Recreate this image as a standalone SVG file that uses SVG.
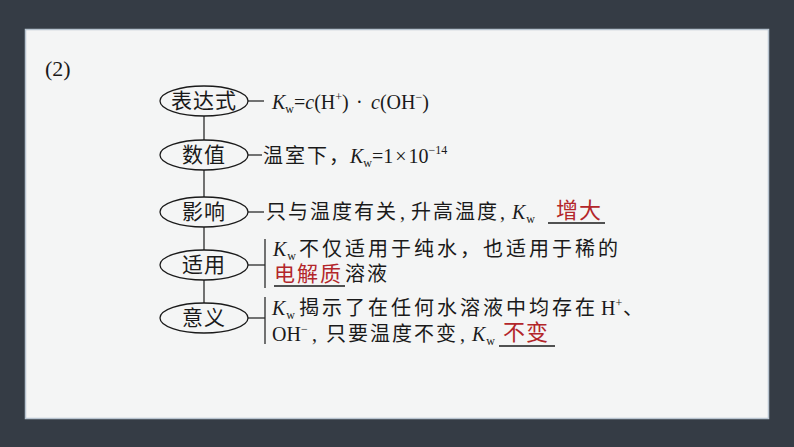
<svg xmlns="http://www.w3.org/2000/svg" width="794" height="447" viewBox="0 0 794 447">
<style>
.t{font-family:"Liberation Serif","Noto Sans CJK SC",serif;font-size:20px;fill:#1a1a1a}
.cj{letter-spacing:2px}
.i{font-style:italic}
.s{font-size:12px}
.r{font-family:"Noto Sans CJK SC","Liberation Sans",sans-serif;font-size:22px;fill:#b3262a}
.lbl{font-family:"Liberation Serif","Noto Sans CJK SC",serif;font-size:21px;fill:#1a1a1a;text-anchor:middle;letter-spacing:1px}
.ln{stroke:#2a2a2a;stroke-width:1.3;fill:none}
.ul{stroke:#1a1a1a;stroke-width:1.3}
.el{fill:#f4f5f5;stroke:#1a1a1a;stroke-width:1.3}
</style>
<rect x="0" y="0" width="794" height="447" fill="#353c45"/>
<rect x="25.5" y="29.5" width="743" height="389" fill="#f4f5f5" stroke="#b8c4d0" stroke-width="1.5"/>
<text class="t" x="45" y="76" style="font-size:22px">(2)</text>
<g id="connectors">
<line class="ln" x1="204" y1="116" x2="204" y2="140"/>
<line class="ln" x1="204" y1="170" x2="204" y2="197"/>
<line class="ln" x1="204" y1="227" x2="204" y2="250"/>
<line class="ln" x1="204" y1="280" x2="204" y2="303"/>
<line class="ln" x1="248" y1="101" x2="264" y2="101"/>
<line class="ln" x1="248" y1="155" x2="262" y2="155"/>
<line class="ln" x1="248" y1="212" x2="264" y2="212"/>
<line class="ln" x1="248" y1="265" x2="265" y2="265"/>
<line class="ln" x1="265" y1="239" x2="265" y2="288"/>
<line class="ln" x1="248" y1="318" x2="265" y2="318"/>
<line class="ln" x1="265" y1="297" x2="265" y2="344"/>
</g>
<g id="n1">
<ellipse class="el" cx="204" cy="101" rx="44" ry="15"/>
<text class="lbl" x="204" y="108">表达式</text>
</g>
<g id="n2">
<ellipse class="el" cx="204" cy="155" rx="44" ry="15"/>
<text class="lbl" x="204" y="162">数值</text>
</g>
<g id="n3">
<ellipse class="el" cx="204" cy="212" rx="44" ry="15"/>
<text class="lbl" x="204" y="219">影响</text>
</g>
<g id="n4">
<ellipse class="el" cx="204" cy="265" rx="44" ry="15"/>
<text class="lbl" x="204" y="272">适用</text>
</g>
<g id="n5">
<ellipse class="el" cx="204" cy="318" rx="44" ry="15"/>
<text class="lbl" x="204" y="325">意义</text>
</g>
<g id="t1">
<text class="t" x="272" y="109"><tspan class="i">K</tspan><tspan class="s" y="113">w</tspan><tspan y="109">=</tspan><tspan class="i">c</tspan><tspan>(H</tspan><tspan class="s" y="101">+</tspan><tspan y="109">)</tspan><tspan x="356">·</tspan><tspan class="i" x="371">c</tspan><tspan>(OH</tspan><tspan class="s" y="101">−</tspan><tspan y="109">)</tspan></text>
</g>
<g id="t2">
<text class="t" y="163"><tspan class="cj" x="263">温室下，</tspan><tspan class="i" x="350">K</tspan><tspan class="s" y="167">w</tspan><tspan y="163">=1</tspan><tspan dx="2">×</tspan><tspan dx="2">10</tspan><tspan class="s" y="154">−14</tspan></text>
</g>
<g id="t3">
<text class="t" y="219"><tspan class="cj" x="266">只与温度有关</tspan><tspan x="400">,</tspan><tspan class="cj" x="411">升高温度</tspan><tspan x="500">,</tspan><tspan class="i" x="512">K</tspan><tspan class="s" dx="1" y="223">w</tspan></text>
<line class="ul" x1="548" y1="223" x2="605" y2="223"/>
<text class="r" x="556" y="218" style="letter-spacing:1px">增大</text>
</g>
<g id="t4">
<text class="t" y="256"><tspan class="i" x="273">K</tspan><tspan class="s" dx="1" y="260">w</tspan><tspan x="299" y="256" style="letter-spacing:3px">不仅适用于纯水，也适用于稀的</tspan></text>
<text class="r" x="274" y="281" style="font-size:21px;letter-spacing:2px">电解质</text>
<line class="ul" x1="274" y1="286" x2="345" y2="286"/>
<text class="t" y="281"><tspan class="cj" x="345">溶液</tspan></text>
</g>
<g id="t5">
<text class="t" y="315"><tspan class="i" x="272">K</tspan><tspan class="s" dx="1" y="319">w</tspan><tspan x="299" y="315" style="letter-spacing:3px">揭示了在任何水溶液中均存在</tspan><tspan x="601">H</tspan><tspan class="s" y="307">+</tspan><tspan x="623" y="315">、</tspan></text>
<text class="t" y="341"><tspan x="272">OH</tspan><tspan class="s" y="333">−</tspan><tspan x="312" y="341">,</tspan><tspan class="cj" x="326">只要温度不变</tspan><tspan x="460">,</tspan><tspan class="i" x="472">K</tspan><tspan class="s" dx="1" y="345">w</tspan></text>
<line class="ul" x1="499" y1="346" x2="555" y2="346"/>
<text class="r" x="503" y="340" style="letter-spacing:1px">不变</text>
</g>
</svg>
